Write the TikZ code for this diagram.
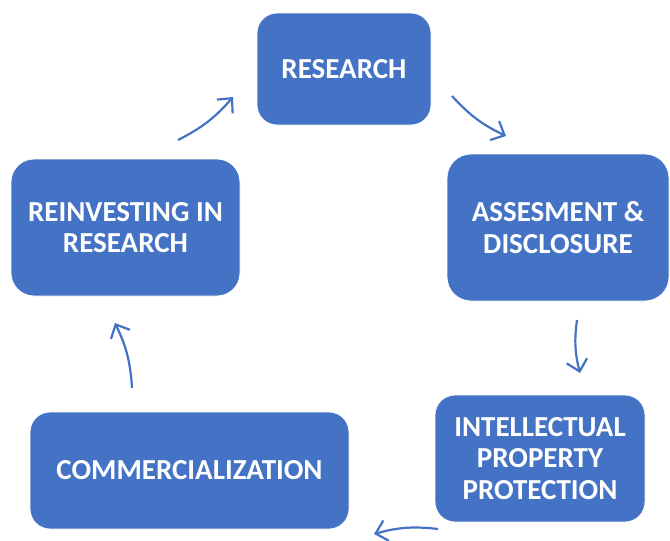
\documentclass[tikz,border=0pt]{standalone}
\usepackage{fontspec}
\setmainfont{Carlito}
\usetikzlibrary{arrows.meta}
\definecolor{boxblue}{HTML}{4472C4}
\tikzset{
  stage/.style={draw=white, line width=0.8pt, fill=boxblue, rounded corners=20pt,
    text=white, align=center, inner sep=0pt,
    font=\fontsize{29}{31.5}\selectfont\bfseries},
  cyc/.style={draw=boxblue, line width=2.2pt,
    -{Straight Barb[length=11pt, width=21pt, line width=2.2pt]}, bend right=11}
}
\begin{document}
\begin{tikzpicture}[x=1pt, y=-1pt]
            \useasboundingbox (0, 0) rectangle (670, 541);

            % Stages of the cycle
            \node[stage, minimum width=174pt, minimum height=112pt] (research) at (344, 69) {RESEARCH};
            \node[stage, minimum width=222pt, minimum height=147pt, rounded corners=24pt] (assess) at (558, 227.5) {ASSESMENT \&\\DISCLOSURE};
            \node[stage, minimum width=210pt, minimum height=127pt] (ipp) at (540, 458.5) {INTELLECTUAL\\PROPERTY\\PROTECTION};
            \node[stage, minimum width=319pt, minimum height=117pt] (commerce) at (189.5, 470.5) {COMMERCIALIZATION};
            \node[stage, minimum width=229pt, minimum height=137pt, rounded corners=23pt] (reinvest) at (125.5, 227.5) {REINVESTING IN\\RESEARCH};

            % Arrow ends
            \coordinate (resout) at (452, 96);
            \coordinate (assin) at (506, 136);
            \coordinate (assout) at (577, 320);
            \coordinate (ippin) at (580, 373);
            \coordinate (ippout) at (438, 529);
            \coordinate (comin) at (374, 534);
            \coordinate (comout) at (132, 388);
            \coordinate (reiin) at (115, 323);
            \coordinate (reiout) at (178, 140);
            \coordinate (resin) at (233, 97);

            \draw[cyc] (resout) to (assin);
            \draw[cyc] (assout) to (ippin);
            \draw[cyc] (ippout) to (comin);
            \draw[cyc] (comout) to (reiin);
            \draw[cyc] (reiout) to (resin);
        \end{tikzpicture}
\end{document}
